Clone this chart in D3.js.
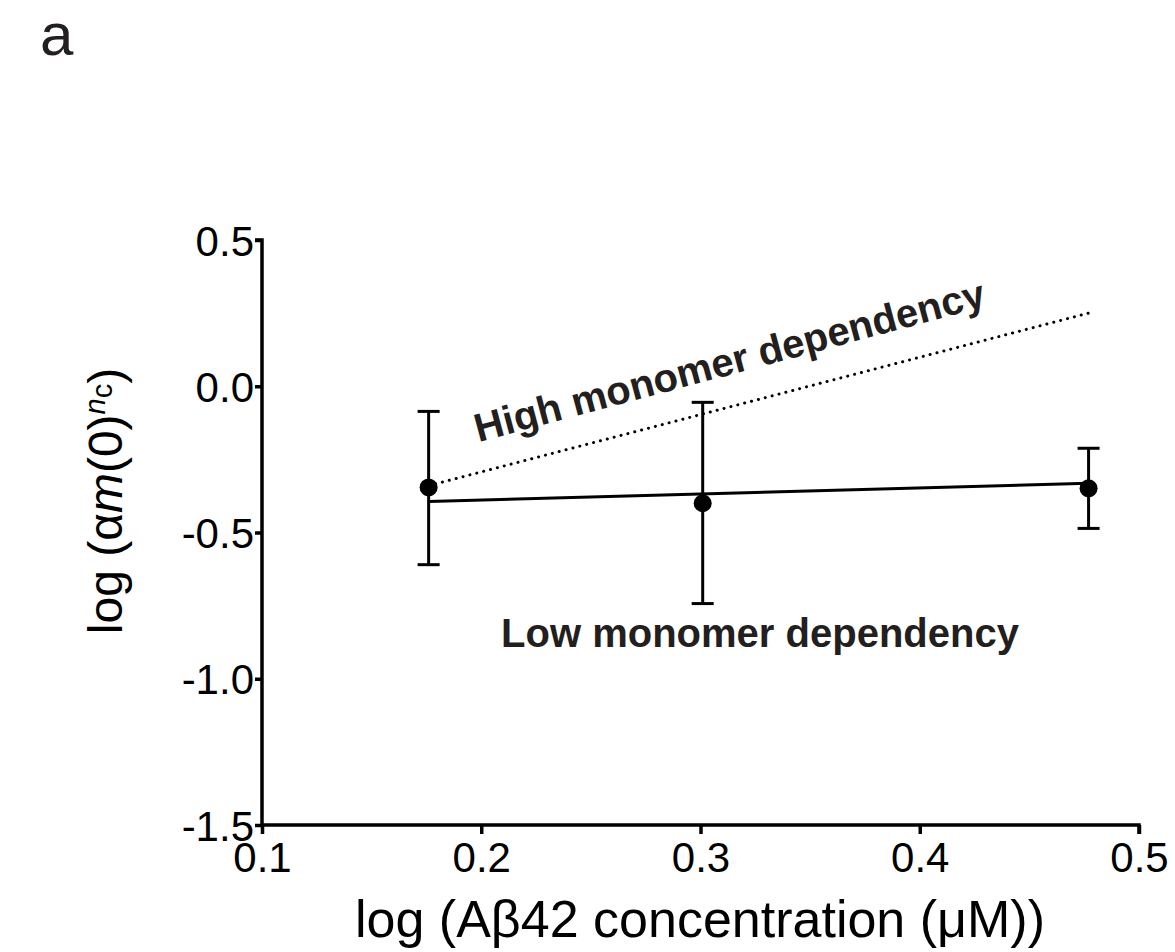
<!DOCTYPE html>
<html>
<head>
<meta charset="utf-8">
<script src="https://cdn.jsdelivr.net/npm/d3@7"></script>
<style>
  body { margin: 0; background: #fff; }
  svg { font-family: "Liberation Sans", Arial, sans-serif; }
</style>
</head>
<body>
<svg id="chart" width="1175" height="952"></svg>
<script>
// data
let conc = [0.176, 0.301, 0.477];          // log (Abeta42 concentration (uM))
let meanVal = [-0.346, -0.400, -0.349];    // log (alpha m(0)^nc)
let errTop = [-0.086, -0.055, -0.212];
let errBottom = [-0.610, -0.743, -0.486];
let fitX = [0.176, 0.477];
let lowFit = [-0.394, -0.332];             // fitted line (low dependency)
let highFit = [-0.340, 0.250];             // slope ~2 line (high dependency)
let xTicks = [0.1, 0.2, 0.3, 0.4, 0.5];
let yTicks = [0.5, 0.0, -0.5, -1.0, -1.5];

let svg = d3.select("#chart");
let x = d3.scaleLinear().domain([0.1, 0.5]).range([262, 1139]);
let y = d3.scaleLinear().domain([-1.5, 0.5]).range([825, 240]);
let fmt = d => d3.format(".1f")(d).replace("−", "-");

svg.append("text").attr("x", 40).attr("y", 55)
    .attr("font-size", 60).attr("fill", "#231f20").text("a");

let xAxis = svg.append("g")
    .attr("transform", "translate(0," + y(-1.5) + ")")
    .call(d3.axisBottom(x).tickValues(xTicks).tickFormat(fmt).tickSize(9).tickPadding(0));
let yAxis = svg.append("g")
    .attr("transform", "translate(" + x(0.1) + ",0)")
    .call(d3.axisLeft(y).tickValues(yTicks).tickFormat(fmt).tickSize(7).tickPadding(1));

[xAxis, yAxis].forEach(a => {
    a.select(".domain").attr("stroke", "#000").attr("stroke-width", 3.5);
    a.selectAll(".tick line").attr("stroke", "#000").attr("stroke-width", 3.5);
    a.selectAll(".tick text").attr("font-size", 42).attr("fill", "#000")
        .attr("font-family", "Liberation Sans, Arial, sans-serif");
});
xAxis.select(".domain").attr("d", "M" + x(0.1) + ",0H" + x(0.5) + "V9");
yAxis.select(".domain").attr("d", "M-7," + y(0.5) + "H0V" + y(-1.5));
xAxis.selectAll(".tick text").attr("dy", "0.9em");
yAxis.selectAll(".tick text").attr("dy", "0.36em");

// axis titles
svg.append("text")
    .attr("x", 700).attr("y", 937)
    .attr("text-anchor", "middle").attr("font-size", 52).attr("fill", "#000")
    .text("log (Aβ42 concentration (μM))");

let yTitle = svg.append("text")
    .attr("transform", "translate(122,501) rotate(-90)")
    .attr("text-anchor", "middle").attr("font-size", 48).attr("fill", "#000");
yTitle.append("tspan").text("log (α");
yTitle.append("tspan").attr("font-style", "italic").text("m");
yTitle.append("tspan").text("(0)");
yTitle.append("tspan").attr("font-style", "italic").attr("font-size", 29).attr("dy", -17).text("n");
yTitle.append("tspan").attr("font-size", 29).attr("dy", 7).text("c");
yTitle.append("tspan").attr("dy", 10).text(")");

let line = d3.line().x(d => x(d[0])).y(d => y(d[1]));

// high dependency dotted line
svg.append("path")
    .datum(fitX.map((v, i) => [v, highFit[i]]))
    .attr("d", line).attr("fill", "none").attr("stroke", "#000")
    .attr("stroke-width", 3).attr("stroke-linecap", "round")
    .attr("stroke-dasharray", "0.1 7");

// low dependency fit
svg.append("path")
    .datum(fitX.map((v, i) => [v, lowFit[i]]))
    .attr("d", line).attr("fill", "none").attr("stroke", "#000")
    .attr("stroke-width", 3);

// error bars
let pts = conc.map((c, i) => ({ c: c, m: meanVal[i], t: errTop[i], b: errBottom[i] }));
let eb = svg.append("g").attr("stroke", "#000").attr("stroke-width", 3);
eb.selectAll("line.v").data(pts).enter().append("line")
    .attr("x1", d => x(d.c)).attr("x2", d => x(d.c))
    .attr("y1", d => y(d.t)).attr("y2", d => y(d.b));
eb.selectAll("line.t").data(pts).enter().append("line")
    .attr("x1", d => x(d.c) - 11).attr("x2", d => x(d.c) + 11)
    .attr("y1", d => y(d.t)).attr("y2", d => y(d.t));
eb.selectAll("line.b").data(pts).enter().append("line")
    .attr("x1", d => x(d.c) - 11).attr("x2", d => x(d.c) + 11)
    .attr("y1", d => y(d.b)).attr("y2", d => y(d.b));

svg.selectAll("circle").data(pts).enter().append("circle")
    .attr("cx", d => x(d.c)).attr("cy", d => y(d.m))
    .attr("r", 9).attr("fill", "#000");

// annotations
svg.append("text")
    .attr("transform", "translate(733,374) rotate(-15)")
    .attr("text-anchor", "middle").attr("font-size", 40).attr("font-weight", "bold")
    .attr("fill", "#231f20").text("High monomer dependency");

svg.append("text")
    .attr("x", 760).attr("y", 647)
    .attr("text-anchor", "middle").attr("font-size", 40).attr("font-weight", "bold")
    .attr("fill", "#231f20").text("Low monomer dependency");
</script>
</body>
</html>
